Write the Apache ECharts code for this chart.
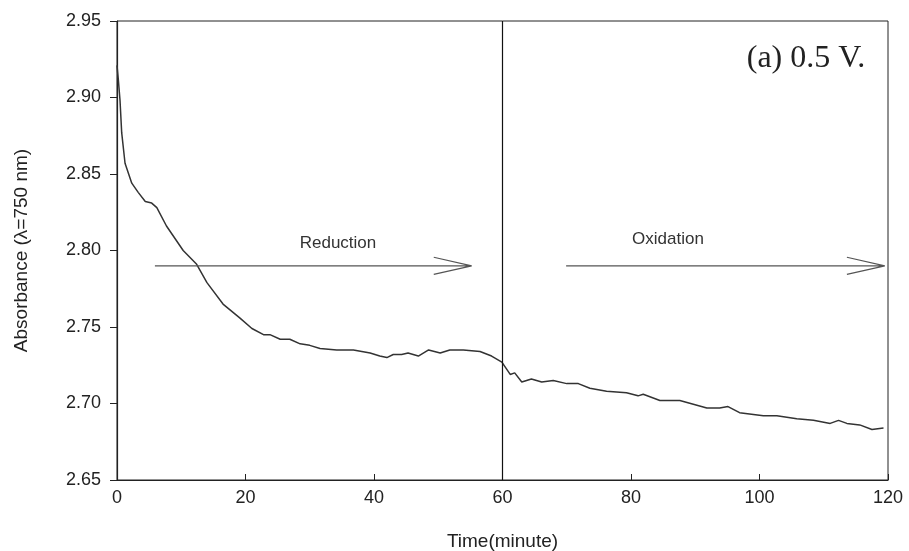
<!DOCTYPE html>
<html>
<head>
<meta charset="utf-8">
<script src="https://cdn.jsdelivr.net/npm/echarts@6/dist/echarts.min.js"></script>
<style>
  html, body { margin: 0; padding: 0; background: #fff; }
  #chart { width: 909px; height: 551px; }
</style>
</head>
<body>
<div id="chart"></div>
<script>
// time (minute) and absorbance
var timeMin = [0, 0.2, 0.47, 0.73, 1.25, 2.3, 3.3, 4.4, 5.4, 6.2, 7.7, 10.3, 12.4, 14, 16.5, 19.1, 21, 22.8, 23.8, 25.4, 26.9, 28.5, 30, 31.6, 34.2, 36.8, 39.4, 40.9, 42, 43, 44.3, 45.3, 46.9, 48.5, 50.3, 51.8, 53.9, 56.5, 58.3, 59.9, 61.2, 61.9, 63, 64.5, 66.1, 67.9, 70, 71.8, 73.6, 76.2, 79.3, 81.1, 81.9, 84.5, 87.6, 91.8, 93.8, 95.1, 96.9, 100.6, 102.7, 105.8, 108.4, 111, 112.3, 113.6, 115.6, 117.5, 119.3]
var absorbance = [2.921, 2.912, 2.898, 2.877, 2.857, 2.844, 2.838, 2.832, 2.831, 2.828, 2.816, 2.800, 2.791, 2.779, 2.765, 2.756, 2.749, 2.745, 2.745, 2.742, 2.742, 2.739, 2.738, 2.736, 2.735, 2.735, 2.733, 2.731, 2.730, 2.732, 2.732, 2.733, 2.731, 2.735, 2.733, 2.735, 2.735, 2.734, 2.731, 2.727, 2.719, 2.720, 2.714, 2.716, 2.714, 2.715, 2.713, 2.713, 2.710, 2.708, 2.707, 2.705, 2.706, 2.702, 2.702, 2.697, 2.697, 2.698, 2.694, 2.692, 2.692, 2.690, 2.689, 2.687, 2.689, 2.687, 2.686, 2.683, 2.684]

// annotation arrows: [start time, tip time], at the same absorbance level
var arrowLevel = 2.79
var reductionArrow = [5.9, 55.2]
var oxidationArrow = [69.9, 119.5]
var switchTime = 60

var yTicks = ['2.65', '2.70', '2.75', '2.80', '2.85', '2.90', '2.95']

var chart = echarts.init(document.getElementById('chart'))

function arrowData(a) {
  var headX = 5.9, headY = 0.0056
  return [
    [a[0], arrowLevel], [a[1], arrowLevel], null,
    [a[1] - headX, arrowLevel + headY], [a[1], arrowLevel], [a[1] - headX, arrowLevel - headY]
  ]
}

var line = []
for (var i = 0; i < timeMin.length; i++) {
  line.push([timeMin[i], absorbance[i]])
}

var arrowStyle = { color: '#555', width: 1.2 }
var font = 'Liberation Sans, Arial, sans-serif'

var option = {
  animation: false,
  grid: {
    left: 117, right: 21, top: 21, bottom: 71,
    outerBoundsMode: 'none',
    show: true,
    borderColor: '#222',
    borderWidth: 1
  },
  xAxis: {
    type: 'value',
    min: 0, max: 120, interval: 20,
    name: 'Time(minute)',
    nameLocation: 'middle',
    nameGap: 52,
    nameTextStyle: { color: '#222', fontSize: 19, fontFamily: font },
    axisLine: { lineStyle: { color: '#222', width: 1.2 } },
    axisTick: { inside: true, length: 6, lineStyle: { color: '#222' } },
    axisLabel: { color: '#222', fontSize: 18, fontFamily: font, margin: 9 },
    splitLine: { show: false }
  },
  yAxis: {
    type: 'value',
    min: 2.65, max: 2.95, interval: 0.05,
    name: 'Absorbance (\u03bb=750 nm)',
    nameLocation: 'middle',
    nameGap: 86,
    nameTextStyle: { color: '#222', fontSize: 19, fontFamily: font },
    axisLine: { show: true, lineStyle: { color: '#222', width: 1.2 } },
    axisTick: { show: true, length: 7, lineStyle: { color: '#222' } },
    axisLabel: {
      color: '#222', fontSize: 18, fontFamily: font, margin: 16,
      formatter: function (v) {
        var s = v.toFixed(2)
        return yTicks.indexOf(s) >= 0 ? s : ''
      }
    },
    splitLine: { show: false }
  },
  series: [
    {
      type: 'line',
      data: line,
      showSymbol: false,
      lineStyle: { color: '#333', width: 1.5 },
      markLine: {
        silent: true,
        symbol: 'none',
        label: { show: false },
        lineStyle: { color: '#111', width: 1.2, type: 'solid' },
        data: [{ xAxis: switchTime }]
      }
    },
    {
      type: 'line',
      data: arrowData(reductionArrow),
      showSymbol: false,
      connectNulls: false,
      lineStyle: arrowStyle
    },
    {
      type: 'line',
      data: arrowData(oxidationArrow),
      showSymbol: false,
      connectNulls: false,
      lineStyle: arrowStyle
    }
  ],
  graphic: [
    {
      type: 'text', x: 338, y: 243,
      style: { text: 'Reduction', fill: '#333', font: '17px ' + font, textAlign: 'center', textVerticalAlign: 'middle' }
    },
    {
      type: 'text', x: 668, y: 239,
      style: { text: 'Oxidation', fill: '#333', font: '17px ' + font, textAlign: 'center', textVerticalAlign: 'middle' }
    },
    {
      type: 'text', x: 806, y: 59,
      style: { text: '(a) 0.5 V.', fill: '#222', font: '32px Liberation Serif, Times New Roman, serif', textAlign: 'center', textVerticalAlign: 'middle' }
    }
  ]
}

chart.setOption(option)
</script>
</body>
</html>
